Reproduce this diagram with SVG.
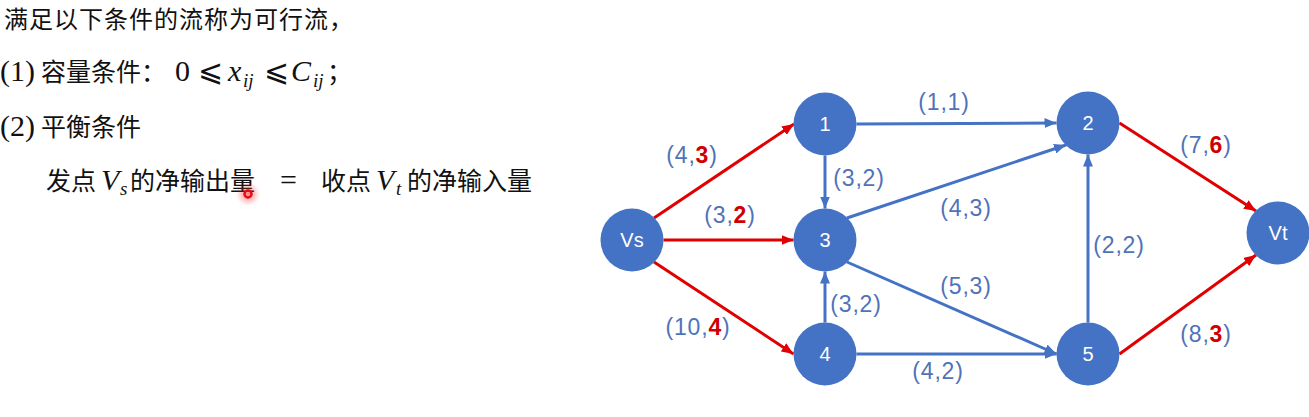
<svg xmlns="http://www.w3.org/2000/svg" width="1309" height="417" viewBox="0 0 1309 417">
<style>
.cjk{font-family:"Noto Sans CJK SC","Noto Sans",sans-serif;font-size:25px;fill:#111}
.m{font-family:"Liberation Serif","DejaVu Serif",serif;font-size:30px;fill:#111}
.mi{font-family:"Liberation Serif","DejaVu Serif",serif;font-size:30px;font-style:italic;fill:#111}
.sub{font-family:"Liberation Serif","DejaVu Serif",serif;font-size:19px;font-style:italic;fill:#111}
.node circle{fill:#4472C4}
.node text{font-family:"Liberation Sans",Arial,sans-serif;font-size:20px;fill:#fff;text-anchor:middle}
.lbl{font-family:"Liberation Sans",Arial,sans-serif;font-size:23px;fill:#4F72B8;text-anchor:middle;letter-spacing:0.8px}
.lbl .r{fill:#D00000;font-weight:bold}
.eb{stroke:#4472C4;stroke-width:3;fill:none;marker-end:url(#ab)}
.er{stroke:#E00000;stroke-width:3;fill:none;marker-end:url(#ar)}
</style>
<defs>
<marker id="ab" markerWidth="12" markerHeight="10" refX="12" refY="5" orient="auto" markerUnits="userSpaceOnUse"><path d="M0,0 L12,5 L0,10 Z" fill="#4472C4"/></marker>
<marker id="ar" markerWidth="12" markerHeight="10" refX="12" refY="5" orient="auto" markerUnits="userSpaceOnUse"><path d="M0,0 L12,5 L0,10 Z" fill="#E00000"/></marker>
<radialGradient id="glow"><stop offset="0" stop-color="#ff2020" stop-opacity="0.55"/><stop offset="1" stop-color="#ff2020" stop-opacity="0"/></radialGradient>
</defs>
<rect width="1309" height="417" fill="#fff"/>

<g id="text-block">
<text class="cjk" x="4" y="28" style="font-size:24px;letter-spacing:1px">满足以下条件的流称为可行流，</text>
<text class="m" x="0" y="81">(1)</text>
<text class="cjk" x="41" y="81">容量条件：</text>
<text class="m" x="175" y="81">0</text>
<text class="m" x="198" y="81">⩽</text>
<text class="mi" x="228" y="81">x</text>
<text class="sub" x="243" y="87">ij</text>
<text class="m" x="264" y="81">⩽</text>
<text class="mi" x="291" y="81">C</text>
<text class="sub" x="313" y="87">ij</text>
<text class="cjk" x="327" y="81">；</text>
<text class="m" x="0" y="136">(2)</text>
<text class="cjk" x="41" y="136">平衡条件</text>
<text class="cjk" x="46" y="190">发点</text>
<text class="mi" x="101" y="190">V</text>
<text class="sub" x="120" y="195">s</text>
<text class="cjk" x="130" y="190">的净输出量</text>
<text class="m" x="280" y="190">=</text>
<text class="cjk" x="321" y="190">收点</text>
<text class="mi" x="376" y="190">V</text>
<text class="sub" x="396" y="195">t</text>
<text class="cjk" x="407" y="190">的净输入量</text>
</g>

<g id="cursor">
<circle cx="248" cy="194" r="12" fill="url(#glow)"/>
<circle cx="248" cy="194" r="3.5" fill="none" stroke="#e01010" stroke-width="2.5"/>
</g>

<g id="connectors">
<line class="er" x1="654" y1="218" x2="794" y2="124"/>
<line class="er" x1="663.5" y1="240" x2="793.5" y2="240"/>
<line class="er" x1="654" y1="262" x2="793.5" y2="354"/>
<line class="eb" x1="856.5" y1="124" x2="1056.5" y2="123"/>
<line class="eb" x1="825" y1="155.5" x2="825" y2="208.5"/>
<line class="eb" x1="847" y1="218" x2="1066" y2="145"/>
<line class="eb" x1="847" y1="262" x2="1056.5" y2="354"/>
<line class="eb" x1="825" y1="322.5" x2="825" y2="271.5"/>
<line class="eb" x1="856.5" y1="354" x2="1056.5" y2="354"/>
<line class="eb" x1="1088" y1="322.5" x2="1088" y2="154.5"/>
<line class="er" x1="1119.5" y1="123" x2="1256" y2="211"/>
<line class="er" x1="1119.5" y1="354" x2="1256" y2="255"/>
</g>

<g id="edge-labels">
<text class="lbl" x="692" y="163">(4,<tspan class="r">3</tspan>)</text>
<text class="lbl" x="730" y="223">(3,<tspan class="r">2</tspan>)</text>
<text class="lbl" x="698" y="335">(10,<tspan class="r">4</tspan>)</text>
<text class="lbl" x="944" y="110">(1,1)</text>
<text class="lbl" x="859" y="186">(3,2)</text>
<text class="lbl" x="966" y="216">(4,3)</text>
<text class="lbl" x="966" y="294">(5,3)</text>
<text class="lbl" x="856" y="312">(3,2)</text>
<text class="lbl" x="938" y="379">(4,2)</text>
<text class="lbl" x="1119" y="253">(2,2)</text>
<text class="lbl" x="1206" y="153">(7,<tspan class="r">6</tspan>)</text>
<text class="lbl" x="1206" y="342">(8,<tspan class="r">3</tspan>)</text>
</g>

<g id="node-Vs" class="node"><circle cx="632" cy="240" r="31.5"/><text x="632" y="247">Vs</text></g>
<g id="node-1" class="node"><circle cx="825" cy="124" r="31.5"/><text x="825" y="131">1</text></g>
<g id="node-3" class="node"><circle cx="825" cy="240" r="31.5"/><text x="825" y="247">3</text></g>
<g id="node-4" class="node"><circle cx="825" cy="354" r="31.5"/><text x="825" y="361">4</text></g>
<g id="node-2" class="node"><circle cx="1088" cy="123" r="31.5"/><text x="1088" y="130">2</text></g>
<g id="node-5" class="node"><circle cx="1088" cy="354" r="31.5"/><text x="1088" y="361">5</text></g>
<g id="node-Vt" class="node"><circle cx="1278" cy="233" r="31.5"/><text x="1278" y="240">Vt</text></g>
</svg>
